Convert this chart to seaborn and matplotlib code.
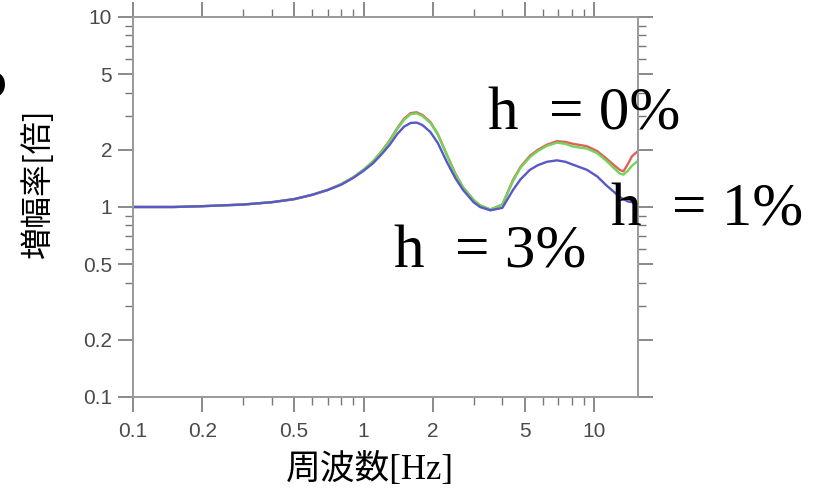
import numpy as np
import pandas as pd
import matplotlib
matplotlib.use("Agg")
import matplotlib.pyplot as plt
import matplotlib.ticker as mticker
import seaborn as sns

# ---- data ----
freq = [0.1, 0.15, 0.2, 0.3, 0.4, 0.5, 0.6, 0.7, 0.8, 0.9, 1.0, 1.1, 1.2, 1.3, 1.4,
        1.5, 1.6, 1.7, 1.8, 1.95, 2.1, 2.3, 2.5, 2.7, 3.0, 3.2, 3.55, 4.0, 4.45, 4.8,
        5.27, 5.7, 6.25, 6.9, 7.5, 8.1, 9.3, 10.3, 11.3, 12.2, 12.9, 13.4, 14.0, 14.6, 15.5]
amp_h0 = [1.0, 1.0, 1.01, 1.03, 1.06, 1.10, 1.16, 1.23, 1.32, 1.43, 1.57, 1.74, 1.97, 2.25, 2.60,
          2.92, 3.12, 3.15, 3.05, 2.80, 2.42, 1.88, 1.50, 1.27, 1.09, 1.02, 0.97, 1.03, 1.39, 1.63,
          1.86, 2.00, 2.13, 2.22, 2.20, 2.15, 2.09, 1.97, 1.80, 1.66, 1.57, 1.54, 1.68, 1.85, 1.97]
amp_h1 = [1.0, 1.0, 1.01, 1.03, 1.06, 1.10, 1.16, 1.23, 1.32, 1.43, 1.57, 1.74, 1.96, 2.23, 2.57,
          2.88, 3.08, 3.11, 3.01, 2.77, 2.40, 1.87, 1.49, 1.27, 1.09, 1.02, 0.97, 1.03, 1.37, 1.61,
          1.83, 1.97, 2.10, 2.18, 2.15, 2.08, 2.03, 1.92, 1.75, 1.60, 1.50, 1.48, 1.55, 1.65, 1.75]
amp_h3 = [1.0, 1.0, 1.01, 1.03, 1.06, 1.10, 1.16, 1.23, 1.31, 1.42, 1.55, 1.70, 1.90, 2.13, 2.42,
          2.65, 2.77, 2.78, 2.70, 2.48, 2.17, 1.72, 1.42, 1.23, 1.06, 1.00, 0.96, 0.99, 1.23, 1.40,
          1.57, 1.66, 1.73, 1.76, 1.73, 1.67, 1.57, 1.45, 1.30, 1.20, 1.13, 1.10, 1.07, 1.06, 1.05]
series_names = ["h=0%", "h=1%", "h=3%"]
tick_values = [0.1, 0.2, 0.5, 1, 2, 5, 10]
tick_labels = ["0.1", "0.2", "0.5", "1", "2", "5", "10"]
label_texts = ["h  = 0%", "h  = 1%", "h  = 3%"]

df = pd.concat([
    pd.DataFrame({"freq": freq, "amp": a, "series": n})
    for a, n in zip([amp_h0, amp_h1, amp_h3], series_names)
], ignore_index=True)

sns.set_style("ticks")
plt.rcParams["font.family"] = ["Liberation Sans", "Noto Sans CJK JP", "DejaVu Sans"]

W, H = 821, 493
fig = plt.figure(figsize=(W / 100, H / 100), dpi=100)
L, R, T, B = 133, 638, 17, 397
ax = fig.add_axes([L / W, 1 - B / H, (R - L) / W, (B - T) / H])

palette = {"h=0%": "#e0605a", "h=1%": "#74d45a", "h=3%": "#5858c8"}
sns.lineplot(data=df, x="freq", y="amp", hue="series", hue_order=series_names,
             palette=palette, estimator=None, sort=False, linewidth=1.7,
             legend=False, ax=ax)

ax.set_xscale("log")
ax.set_yscale("log")
ax.set_xlim(0.1, 15.5)
ax.set_ylim(0.1, 10)
ax.set_xticks(tick_values)
ax.set_xticklabels(tick_labels)
ax.set_yticks(tick_values)
ax.set_yticklabels(tick_labels)
ax.xaxis.set_minor_locator(mticker.LogLocator(base=10, subs=np.arange(2, 10)))
ax.yaxis.set_minor_locator(mticker.LogLocator(base=10, subs=np.arange(2, 10)))
ax.xaxis.set_minor_formatter(mticker.NullFormatter())
ax.yaxis.set_minor_formatter(mticker.NullFormatter())

for sp in ax.spines.values():
    sp.set_visible(True)
    sp.set_color("#9a9a9a")
    sp.set_linewidth(1.4)

ax.tick_params(which="both", top=True, right=True, direction="out",
               color="#777777", labelcolor="#4a4a4a", labelsize=15)
ax.tick_params(which="major", length=11, width=1.2)
ax.tick_params(axis="x", which="major", pad=7)
ax.tick_params(axis="y", which="major", pad=4)
ax.tick_params(which="minor", length=6, width=1.0)

ax.set_xlabel("周波数[Hz]", family=["Liberation Serif", "Noto Sans CJK JP"],
              fontsize=25, color="black")
ax.xaxis.set_label_coords((370 - L) / (R - L), (B - 470) / (B - T))
ax.xaxis.label.set_va("center")
ax.set_ylabel("増幅率[倍]", family=["Noto Sans CJK JP", "DejaVu Sans"],
              fontsize=23, color="black")
ax.yaxis.set_label_coords((38 - L) / (R - L), (B - 183) / (B - T))
ax.yaxis.label.set_va("center")

# curve labels
pos = [(488, 129), (611, 226), (394, 268)]
for (px, py), t in zip(pos, label_texts):
    fig.text(px / W, 1 - py / H, t, family=["Liberation Serif"], fontsize=44,
             ha="left", va="baseline", color="black")

# partial panel letter at left edge
fig.text(6 / W, 1 - 84 / H, "b", fontsize=30, weight="bold", ha="right",
         va="center", color="black", family=["DejaVu Sans"])

fig.savefig("out.png", dpi=100)
